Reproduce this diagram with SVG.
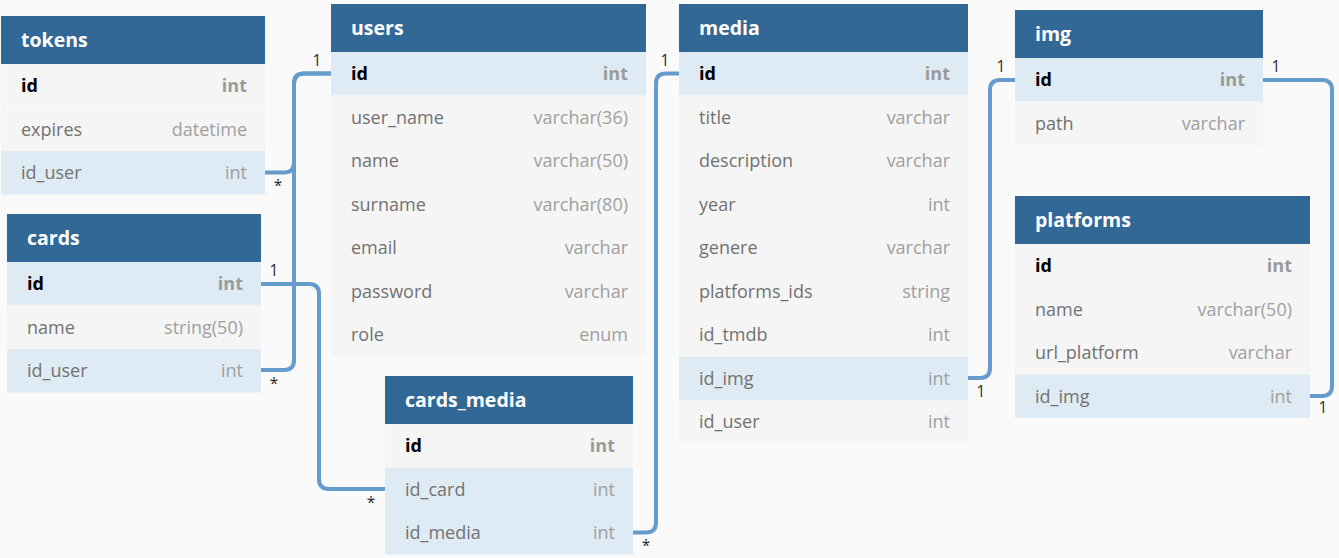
<svg xmlns="http://www.w3.org/2000/svg" width="1339" height="558" viewBox="0 0 1339 558">
<style>
.bg{fill:#fafafa}
.hd{fill:#316896}
.ht{font-family:"Open Sans","Liberation Sans",sans-serif;font-size:19.5px;font-weight:bold;fill:#ffffff}
.r{fill:#f5f5f5}
.rh{fill:#deebf4}
.fn{font-family:"Open Sans","Liberation Sans",sans-serif;font-size:18px;fill:#727272}
.ft{font-family:"Open Sans","Liberation Sans",sans-serif;font-size:18px;fill:#a0a0a0;text-anchor:end}
.pk{font-family:"Open Sans","Liberation Sans",sans-serif;font-size:18px;font-weight:bold;fill:#000000}
.pt{font-family:"Open Sans","Liberation Sans",sans-serif;font-size:18px;font-weight:bold;fill:#9a9a9a;text-anchor:end}
.c{fill:none;stroke:#659bcd;stroke-width:4}
.lb{font-family:"Open Sans","Liberation Sans",sans-serif;font-size:15.5px;fill:#2a2a2a;text-anchor:middle}
</style>
<rect class="bg" x="0" y="0" width="1339" height="558"/>

<g id="connectors">
<path class="c" d="M265,172.5 H284 Q294,172.5 294,162.5 V83.5 Q294,73.5 304,73.5 H331"/>
<path class="c" d="M261,370 H284 Q294,370 294,360 V83.5 Q294,73.5 304,73.5 H331"/>
<path class="c" d="M261,284 H309 Q319,284 319,294 V479 Q319,489 329,489 H385"/>
<path class="c" d="M679,73.5 H666 Q656,73.5 656,83.5 V522.5 Q656,532.5 646,532.5 H633"/>
<path class="c" d="M968,378 H980 Q990,378 990,368 V90 Q990,80 1000,80 H1015"/>
<path class="c" d="M1263,80 H1322 Q1332,80 1332,90 V386 Q1332,396 1322,396 H1310"/>
<text class="lb" x="317" y="66">1</text>
<text class="lb" x="278" y="191">*</text>
<text class="lb" x="274" y="276">1</text>
<text class="lb" x="274" y="389">*</text>
<text class="lb" x="371" y="508">*</text>
<text class="lb" x="665" y="66">1</text>
<text class="lb" x="646" y="551">*</text>
<text class="lb" x="981" y="397">1</text>
<text class="lb" x="1001" y="72">1</text>
<text class="lb" x="1276" y="72">1</text>
<text class="lb" x="1323" y="413">1</text>
</g>

<g id="tokens">
<rect class="hd" x="1" y="16" width="264" height="48"/>
<text class="ht" x="21" y="47">tokens</text>
<rect class="r" x="1" y="64" width="264" height="43.5"/>
<rect class="r" x="1" y="107.5" width="264" height="43.5"/>
<rect class="rh" x="1" y="151" width="264" height="43.5"/>
<text class="pk" x="21" y="92.25">id</text><text class="pt" x="247" y="92.25">int</text>
<text class="fn" x="21" y="135.75">expires</text><text class="ft" x="247" y="135.75">datetime</text>
<text class="fn" x="21" y="179.25">id_user</text><text class="ft" x="247" y="179.25">int</text>
</g>

<g id="cards">
<rect class="hd" x="7" y="214" width="254" height="48"/>
<text class="ht" x="27" y="245">cards</text>
<rect class="rh" x="7" y="262" width="254" height="43.5"/>
<rect class="r" x="7" y="305.5" width="254" height="43.5"/>
<rect class="rh" x="7" y="349" width="254" height="43.5"/>
<text class="pk" x="27" y="290.25">id</text><text class="pt" x="243" y="290.25">int</text>
<text class="fn" x="27" y="333.75">name</text><text class="ft" x="243" y="333.75">string(50)</text>
<text class="fn" x="27" y="377.25">id_user</text><text class="ft" x="243" y="377.25">int</text>
</g>

<g id="users">
<rect class="hd" x="331" y="4" width="315" height="48"/>
<text class="ht" x="351" y="35">users</text>
<rect class="rh" x="331" y="52" width="315" height="43.5"/>
<rect class="r" x="331" y="95.5" width="315" height="261"/>
<text class="pk" x="351" y="80.25">id</text><text class="pt" x="628" y="80.25">int</text>
<text class="fn" x="351" y="123.75">user_name</text><text class="ft" x="628" y="123.75">varchar(36)</text>
<text class="fn" x="351" y="167.25">name</text><text class="ft" x="628" y="167.25">varchar(50)</text>
<text class="fn" x="351" y="210.75">surname</text><text class="ft" x="628" y="210.75">varchar(80)</text>
<text class="fn" x="351" y="254.25">email</text><text class="ft" x="628" y="254.25">varchar</text>
<text class="fn" x="351" y="297.75">password</text><text class="ft" x="628" y="297.75">varchar</text>
<text class="fn" x="351" y="341.25">role</text><text class="ft" x="628" y="341.25">enum</text>
</g>

<g id="cards_media">
<rect class="hd" x="385" y="376" width="248" height="48"/>
<text class="ht" x="405" y="407">cards_media</text>
<rect class="r" x="385" y="424" width="248" height="43.5"/>
<rect class="rh" x="385" y="467.5" width="248" height="87"/>
<text class="pk" x="405" y="452.25">id</text><text class="pt" x="615" y="452.25">int</text>
<text class="fn" x="405" y="495.75">id_card</text><text class="ft" x="615" y="495.75">int</text>
<text class="fn" x="405" y="539.25">id_media</text><text class="ft" x="615" y="539.25">int</text>
</g>

<g id="media">
<rect class="hd" x="679" y="4" width="289" height="48"/>
<text class="ht" x="699" y="35">media</text>
<rect class="rh" x="679" y="52" width="289" height="43.5"/>
<rect class="r" x="679" y="95.5" width="289" height="261"/>
<rect class="rh" x="679" y="356.5" width="289" height="43.5"/>
<rect class="r" x="679" y="400" width="289" height="43.5"/>
<text class="pk" x="699" y="80.25">id</text><text class="pt" x="950" y="80.25">int</text>
<text class="fn" x="699" y="123.75">title</text><text class="ft" x="950" y="123.75">varchar</text>
<text class="fn" x="699" y="167.25">description</text><text class="ft" x="950" y="167.25">varchar</text>
<text class="fn" x="699" y="210.75">year</text><text class="ft" x="950" y="210.75">int</text>
<text class="fn" x="699" y="254.25">genere</text><text class="ft" x="950" y="254.25">varchar</text>
<text class="fn" x="699" y="297.75">platforms_ids</text><text class="ft" x="950" y="297.75">string</text>
<text class="fn" x="699" y="341.25">id_tmdb</text><text class="ft" x="950" y="341.25">int</text>
<text class="fn" x="699" y="384.75">id_img</text><text class="ft" x="950" y="384.75">int</text>
<text class="fn" x="699" y="428.25">id_user</text><text class="ft" x="950" y="428.25">int</text>
</g>

<g id="img">
<rect class="hd" x="1015" y="10" width="248" height="48"/>
<text class="ht" x="1035" y="41">img</text>
<rect class="rh" x="1015" y="58" width="248" height="43.5"/>
<rect class="r" x="1015" y="101.5" width="248" height="43.5"/>
<text class="pk" x="1035" y="86.25">id</text><text class="pt" x="1245" y="86.25">int</text>
<text class="fn" x="1035" y="129.75">path</text><text class="ft" x="1245" y="129.75">varchar</text>
</g>

<g id="platforms">
<rect class="hd" x="1015" y="196" width="295" height="48"/>
<text class="ht" x="1035" y="227">platforms</text>
<rect class="r" x="1015" y="244" width="295" height="130.5"/>
<rect class="rh" x="1015" y="374.5" width="295" height="43.5"/>
<text class="pk" x="1035" y="272.25">id</text><text class="pt" x="1292" y="272.25">int</text>
<text class="fn" x="1035" y="315.75">name</text><text class="ft" x="1292" y="315.75">varchar(50)</text>
<text class="fn" x="1035" y="359.25">url_platform</text><text class="ft" x="1292" y="359.25">varchar</text>
<text class="fn" x="1035" y="402.75">id_img</text><text class="ft" x="1292" y="402.75">int</text>
</g>
</svg>
